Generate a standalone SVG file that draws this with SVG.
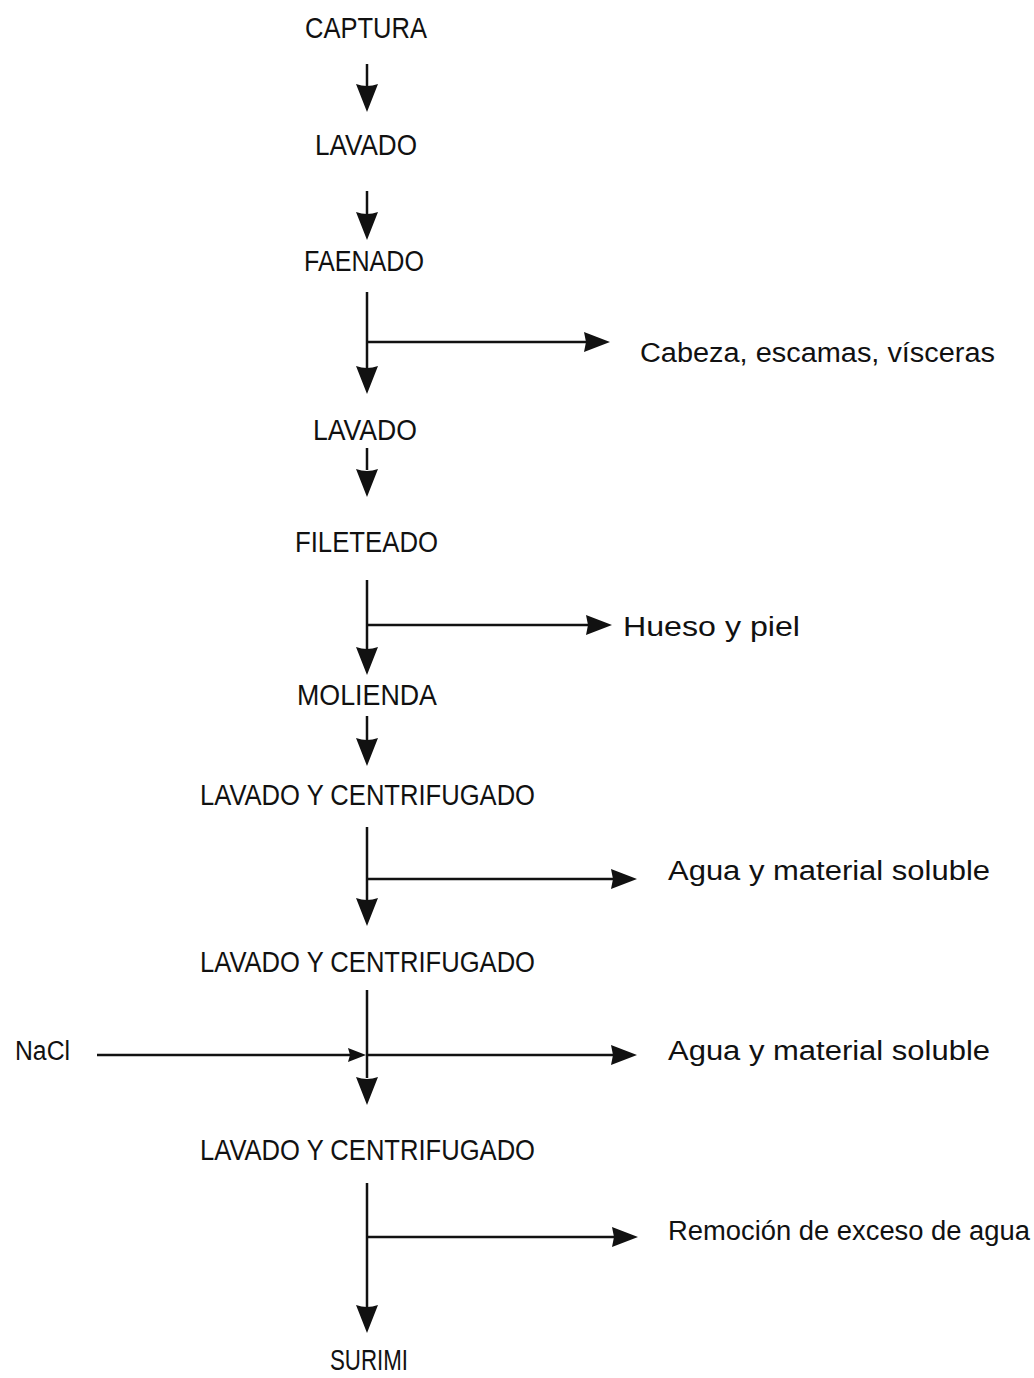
<svg xmlns="http://www.w3.org/2000/svg" width="1034" height="1378" viewBox="0 0 1034 1378">
<style>
.t{font-family:"Liberation Sans",Arial,sans-serif;font-size:30px;fill:#111;}
.s{font-family:"Liberation Sans",Arial,sans-serif;font-size:27px;fill:#111;}
.ln{stroke:#111;stroke-width:2.5;fill:none;}
.ah{fill:#111;}
</style>
<defs>
<path id="down" d="M-11,0 Q0,4 11,0 L0,28 Z"/>
<path id="right" d="M-26,-10 L0,0 L-26,10 L-24,0 Z"/>
<path id="rsmall" d="M-18,-7 L0,0 L-18,7 L-16,0 Z"/>
</defs>
<rect width="1034" height="1378" fill="#fff"/>
<g id="n1"><text class="t" x="305" y="38" textLength="122" lengthAdjust="spacingAndGlyphs">CAPTURA</text></g>
<g id="n2"><text class="t" x="315" y="155" textLength="102" lengthAdjust="spacingAndGlyphs">LAVADO</text></g>
<g id="n3"><text class="t" x="304" y="271" textLength="120" lengthAdjust="spacingAndGlyphs">FAENADO</text></g>
<g id="o1"><text class="s" x="640" y="362" textLength="355" lengthAdjust="spacingAndGlyphs">Cabeza, escamas, vísceras</text></g>
<g id="n4"><text class="t" x="313" y="440" textLength="104" lengthAdjust="spacingAndGlyphs">LAVADO</text></g>
<g id="n5"><text class="t" x="295" y="552" textLength="143" lengthAdjust="spacingAndGlyphs">FILETEADO</text></g>
<g id="o2"><text class="s" x="623" y="636" textLength="177" lengthAdjust="spacingAndGlyphs">Hueso y piel</text></g>
<g id="n6"><text class="t" x="297" y="705" textLength="140" lengthAdjust="spacingAndGlyphs">MOLIENDA</text></g>
<g id="n7"><text class="t" x="200" y="805" textLength="335" lengthAdjust="spacingAndGlyphs">LAVADO Y CENTRIFUGADO</text></g>
<g id="o3"><text class="s" x="668" y="880" textLength="322" lengthAdjust="spacingAndGlyphs">Agua y material soluble</text></g>
<g id="n8"><text class="t" x="200" y="972" textLength="335" lengthAdjust="spacingAndGlyphs">LAVADO Y CENTRIFUGADO</text></g>
<g id="i1"><text class="s" x="15" y="1060" textLength="55" lengthAdjust="spacingAndGlyphs">NaCl</text></g>
<g id="o4"><text class="s" x="668" y="1060" textLength="322" lengthAdjust="spacingAndGlyphs">Agua y material soluble</text></g>
<g id="n9"><text class="t" x="200" y="1160" textLength="335" lengthAdjust="spacingAndGlyphs">LAVADO Y CENTRIFUGADO</text></g>
<g id="o5"><text class="s" x="668" y="1240" textLength="362" lengthAdjust="spacingAndGlyphs">Remoción de exceso de agua</text></g>
<g id="n10"><text class="t" x="330" y="1370" textLength="78" lengthAdjust="spacingAndGlyphs">SURIMI</text></g>
<g id="connectors">
<path class="ln" d="M367,64 V86"/>
<use href="#down" class="ah" x="367" y="84"/>
<path class="ln" d="M367,191 V215"/>
<use href="#down" class="ah" x="367" y="212"/>
<path class="ln" d="M367,292 V369 M367,342 H590"/>
<use href="#right" class="ah" x="610" y="342"/>
<use href="#down" class="ah" x="367" y="366"/>
<path class="ln" d="M367,448 V470"/>
<use href="#down" class="ah" x="367" y="469"/>
<path class="ln" d="M367,580 V649 M367,625 H592"/>
<use href="#right" class="ah" x="612" y="625"/>
<use href="#down" class="ah" x="367" y="647"/>
<path class="ln" d="M367,716 V740"/>
<use href="#down" class="ah" x="367" y="738"/>
<path class="ln" d="M367,827 V900 M367,879 H617"/>
<use href="#right" class="ah" x="637" y="879"/>
<use href="#down" class="ah" x="367" y="898"/>
<path class="ln" d="M367,990 V1078 M367,1055 H617 M97,1055 H352"/>
<use href="#right" class="ah" x="637" y="1055"/>
<use href="#rsmall" class="ah" x="366" y="1055"/>
<use href="#down" class="ah" x="367" y="1077"/>
<path class="ln" d="M367,1183 V1307 M367,1237 H618"/>
<use href="#right" class="ah" x="638" y="1237"/>
<use href="#down" class="ah" x="367" y="1305"/>
</g>
</svg>
